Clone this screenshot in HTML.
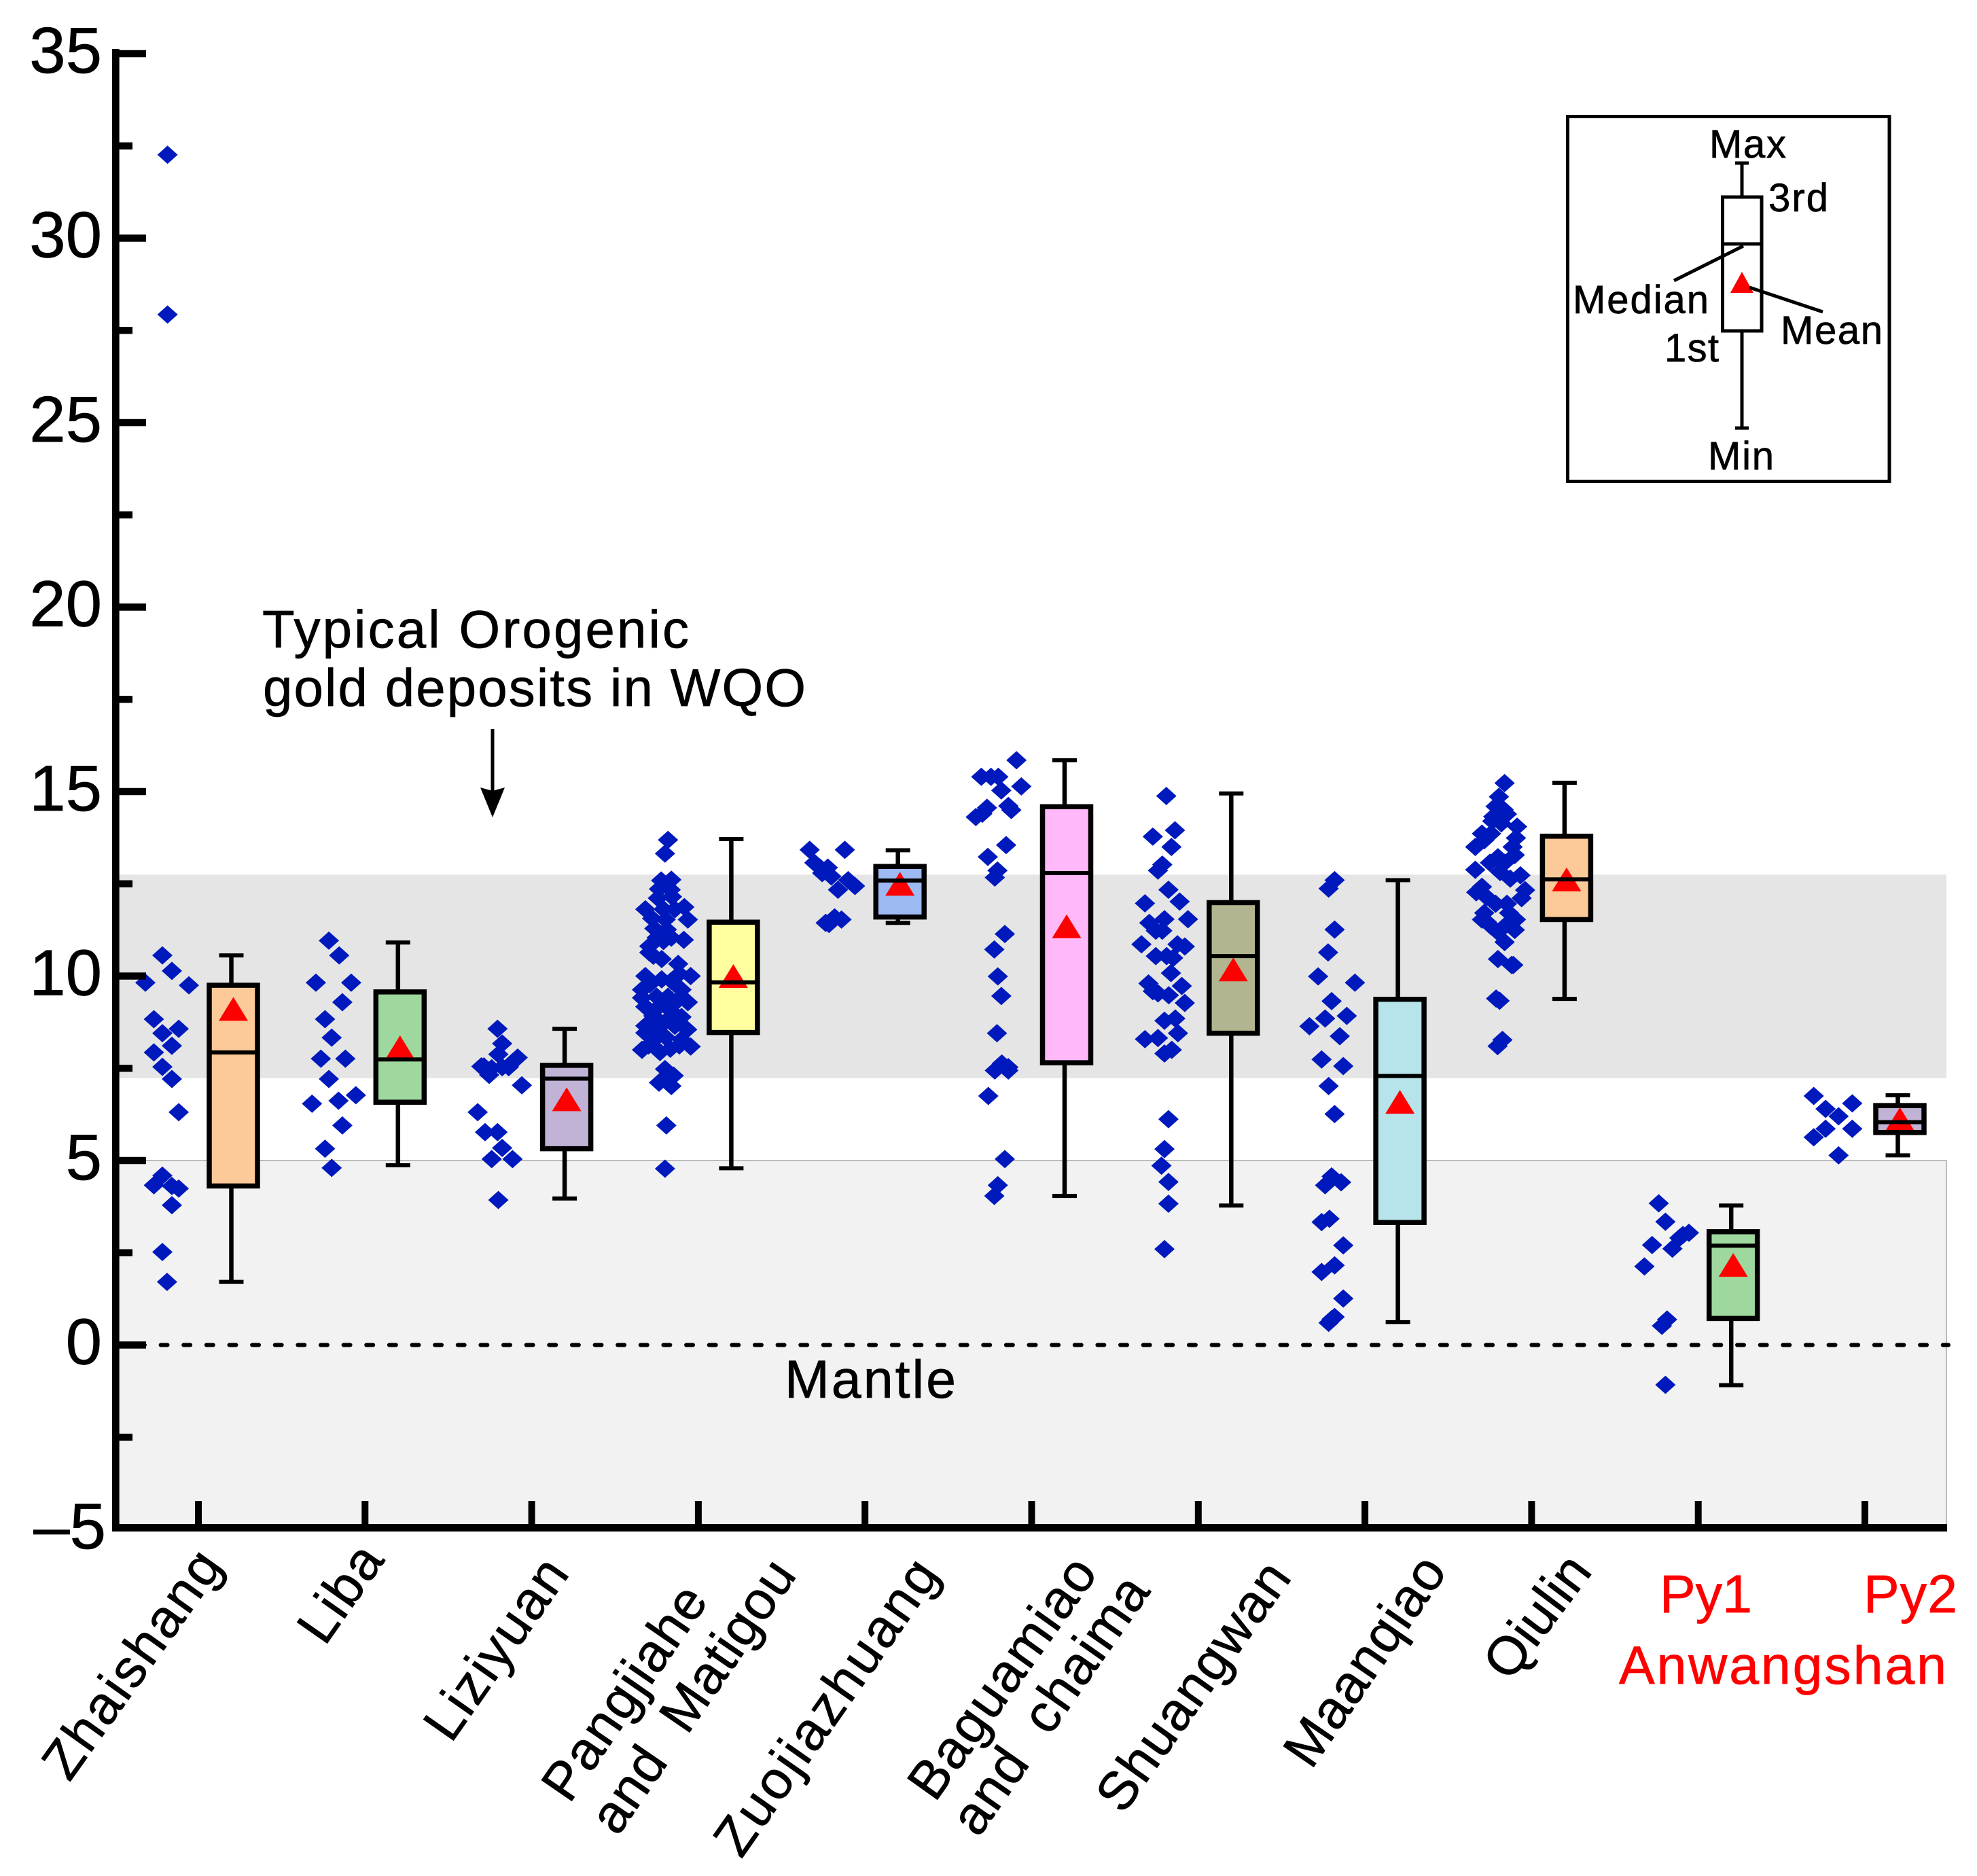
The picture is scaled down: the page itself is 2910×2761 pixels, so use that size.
<!DOCTYPE html>
<html lang="en">
<head>
<meta charset="utf-8">
<title>Box plots with data points by gold deposit</title>
<style>
html,body{margin:0;padding:0;background:#fff;}
svg{display:block;}
text{font-family:"Liberation Sans",sans-serif;fill:#000;stroke:#000;stroke-width:.7px;}
text.red{fill:#ff0000;stroke:#ff0000;}
</style>
</head>
<body>
<svg id="chart" xmlns="http://www.w3.org/2000/svg" width="2910" height="2761" viewBox="0 0 2910 2761">
  <rect x="0" y="0" width="2910" height="2761" fill="#ffffff"/>
  <g id="bands"></g>
  <g id="marks"></g>
  <g id="axes"></g>

  <g>
    <text x="386" y="953" font-size="78" textLength="628" lengthAdjust="spacing">Typical Orogenic</text>
    <text x="387" y="1039" font-size="78" textLength="799" lengthAdjust="spacing">gold deposits in WQO</text>
    <line x1="725" y1="1073" x2="725" y2="1170" stroke="#000" stroke-width="5"/>
    <polygon points="707,1159 725,1164 743,1159 725,1203" fill="#000"/>
  </g>
  <text x="1155" y="2057" font-size="79" textLength="252" lengthAdjust="spacing">Mantle</text>

  <g>
    <text transform="translate(102,2624) rotate(-54.5)" font-size="79" textLength="392" lengthAdjust="spacing">Zhaishang</text>
    <text transform="translate(478,2424) rotate(-55)" font-size="79" textLength="156" lengthAdjust="spacing">Liba</text>
    <text transform="translate(664,2567) rotate(-55)" font-size="79" textLength="306" lengthAdjust="spacing">Liziyuan</text>
    <text transform="translate(838,2656) rotate(-55.5)" font-size="79" textLength="364" lengthAdjust="spacing">Pangjiahe</text>
    <text transform="translate(909,2704) rotate(-55.5)" font-size="79" textLength="468" lengthAdjust="spacing" xml:space="preserve">and  Matigou</text>
    <text transform="translate(1091,2737) rotate(-55)" font-size="79" textLength="512" lengthAdjust="spacing">Zuojiazhuang</text>
    <text transform="translate(1376,2654) rotate(-54.5)" font-size="79" textLength="416" lengthAdjust="spacing">Baguamiao</text>
    <text transform="translate(1440,2706) rotate(-55)" font-size="79" textLength="444" lengthAdjust="spacing" xml:space="preserve">and  chaima</text>
    <text transform="translate(1653,2672) rotate(-54.5)" font-size="79" textLength="430" lengthAdjust="spacing">Shuangwan</text>
    <text transform="translate(1930,2606) rotate(-55.5)" font-size="79" textLength="356" lengthAdjust="spacing">Maanqiao</text>
    <text transform="translate(2222,2477) rotate(-53)" font-size="79" textLength="205" lengthAdjust="spacing">Qiulin</text>
    <text class="red" x="2443" y="2373" font-size="79" textLength="136" lengthAdjust="spacing">Py1</text>
    <text class="red" x="2743" y="2373" font-size="79" textLength="138" lengthAdjust="spacing">Py2</text>
    <text class="red" x="2383" y="2478" font-size="79" textLength="482" lengthAdjust="spacing">Anwangshan</text>
  </g>

  <g>
    <rect x="2307.5" y="171.5" width="473.5" height="537" fill="#fff" stroke="#000" stroke-width="5"/>
    <line x1="2564" y1="240" x2="2564" y2="290" stroke="#000" stroke-width="5"/>
    <line x1="2564" y1="487" x2="2564" y2="630" stroke="#000" stroke-width="5"/>
    <line x1="2554" y1="240" x2="2574" y2="240" stroke="#000" stroke-width="5"/>
    <line x1="2554" y1="630" x2="2574" y2="630" stroke="#000" stroke-width="5"/>
    <rect x="2535.5" y="290" width="57.5" height="197" fill="#fff" stroke="#000" stroke-width="5"/>
    <line x1="2535" y1="359" x2="2593" y2="359" stroke="#000" stroke-width="5"/>
    <polygon points="2564,400 2581,431 2547,431" fill="#ff0000"/>
    <line x1="2464" y1="413" x2="2566" y2="362" stroke="#000" stroke-width="5"/>
    <line x1="2575" y1="423" x2="2683" y2="459" stroke="#000" stroke-width="5"/>
    <text x="2516" y="232" font-size="58" textLength="113" lengthAdjust="spacing">Max</text>
    <text x="2603" y="311" font-size="58" textLength="88" lengthAdjust="spacing">3rd</text>
    <text x="2315" y="461" font-size="58" textLength="200" lengthAdjust="spacing">Median</text>
    <text x="2621" y="506" font-size="58" textLength="150" lengthAdjust="spacing">Mean</text>
    <text x="2450" y="532" font-size="58" textLength="80" lengthAdjust="spacing">1st</text>
    <text x="2514" y="691" font-size="58" textLength="97" lengthAdjust="spacing">Min</text>
  </g>
</svg>

<script>
// ---- categories and box statistics ----
const categories = ["Zhaishang","Liba","Liziyuan","Pangjiahe and Matigou","Zuojiazhuang","Baguamiao and chaima","Shuangwan","Maanqiao","Qiulin","Py1","Py2"];
const boxMax    = [10.56,10.91,8.57,13.71,13.41,15.85,14.95,12.60,15.24,3.78,6.77];
const boxQ3     = [9.75,9.57,7.58,11.46,12.97,14.59,11.99,9.37,13.79,3.07,6.49];
const boxMedian = [7.93,7.74,7.22,9.83,12.59,12.79,10.54,7.29,12.62,2.69,6.04];
const boxQ1     = [4.31,6.58,5.32,8.47,11.60,7.65,8.45,3.32,11.53,0.72,5.76];
const boxMin    = [1.71,4.87,3.97,4.79,11.44,4.04,3.78,0.62,9.38,-1.09,5.14];
const boxMean   = [9.11,8.07,6.66,10.00,12.50,11.35,10.18,6.59,12.62,2.17,6.12];
const boxFills  = ["#fcc998","#9fd89e","#c1b3d6","#ffff9f","#9dbbf2","#ffb8f8","#b2b58f","#b6e4ea","#fcc998","#9fd89e","#c1b3d6"];

// ---- y axis ----
const yTickLabels = ["35","30","25","20","15","10","5","0","\u20135"];
const yTickValues = [35,30,25,20,15,10,5,0,-5];
const yMinorValues = [32.5,27.5,22.5,17.5,12.5,7.5,2.5,-2.5];

// ---- reference bands (value ranges) ----
const orogenicBand = [7.23,12.75];
const mantleBand = [-5,5];

// ---- individual analyses: value, and horizontal jitter in category units ----
const valuesZhaishang = [32.26,27.93,10.56,10.14,9.82,9.75,8.83,8.57,8.45,8.11,7.93,7.54,7.21,6.31,4.59,4.33,4.31,4.24,3.79,2.52,1.71];
const jitterZhaishang = [-.185,-.185,-.216,-.159,-.318,-.057,-.267,-.118,-.216,-.159,-.267,-.216,-.159,-.118,-.216,-.267,-.159,-.118,-.159,-.216,-.188];

const valuesLiba = [10.96,10.56,9.82,9.82,9.29,8.83,8.33,7.76,7.76,7.21,6.77,6.54,6.62,5.95,5.32,4.80];
const jitterLiba = [-.217,-.155,-.295,-.083,-.136,-.24,-.2,-.265,-.118,-.217,-.055,-.318,-.159,-.136,-.24,-.2];

const valuesLiziyuan = [8.57,8.17,7.88,7.79,7.55,7.55,7.32,7.04,6.31,5.77,5.77,5.34,5.04,5.04,3.93,7.55,7.42,7.50,7.53,7.53,7.70];
const jitterLiziyuan = [-.205,-.177,-.2,-.084,-.287,-.138,-.255,-.059,-.324,-.28,-.205,-.177,-.24,-.115,-.2,-.302,-.27,-.24,-.177,-.138,-.106];

const valuesPangjiahe = [13.69,13.32,12.59,12.61,12.36,12.34,12.11,12.15,11.81,11.87,11.81,11.81,11.56,11.53,11.53,11.29,11.26,11.04,10.98,11.04,10.81,10.95,10.64,10.46,10.55,10.33,10.0,10.0,10.06,9.91,9.78,9.63,9.63,9.87,9.44,9.41,9.29,9.44,9.17,9.32,9.2,9.05,8.92,8.89,8.65,8.55,8.77,8.46,8.55,8.65,8.0,8.09,8.28,8.28,8.34,8.12,7.94,8.03,8.12,7.48,7.3,7.11,7.02,7.3,5.95,4.78];
const jitterPangjiahe = [-.182,-.2,-.223,-.162,-.236,-.166,-.243,-.158,-.318,-.084,-.209,-.141,-.277,-.196,-.063,-.264,-.189,-.25,-.087,-.162,-.294,-.209,-.294,-.22,-.27,-.121,-.318,-.046,-.114,-.22,-.291,-.338,-.101,-.162,-.25,-.338,-.063,-.182,-.318,-.128,-.23,-.162,-.27,-.101,-.318,-.067,-.196,-.318,-.25,-.141,-.338,-.046,-.264,-.101,-.196,-.298,-.23,-.168,-.114,-.2,-.148,-.236,-.162,-.189,-.192,-.2];

const valuesZuojiazhuang = [13.42,13.42,13.07,12.94,12.94,12.79,12.7,12.34,12.6,12.44,11.44,11.59,11.53,11.41];
const jitterZuojiazhuang = [-.332,-.121,-.304,-.27,-.223,-.257,-.202,-.162,-.101,-.06,-.236,-.182,-.141,-.216];

const valuesBaguamiao = [15.85,15.4,15.4,15.4,15.14,15.03,14.61,14.56,14.31,14.4,14.5,13.55,13.23,12.86,12.67,11.14,10.72,9.99,9.46,8.45,7.63,7.44,7.53,7.44,6.75,5.04,4.33,4.04];
const jitterBaguamiao = [-.091,-.302,-.244,-.2,-.062,-.182,-.14,-.268,-.335,-.296,-.122,-.153,-.263,-.205,-.221,-.161,-.224,-.203,-.182,-.208,-.179,-.221,-.14,-.14,-.26,-.161,-.203,-.224];

const valuesShuangwan = [14.88,13.95,13.78,13.5,13.02,12.86,12.34,11.97,12.02,11.54,11.54,11.44,11.23,11.23,10.86,10.86,10.8,10.54,10.54,10.49,10.08,9.8,9.73,9.53,9.48,9.59,9.27,8.79,8.85,8.45,8.29,8.32,8.0,7.9,6.12,5.31,4.86,4.42,3.83,2.6];
const jitterShuangwan = [-.192,-.14,-.273,-.161,-.216,-.242,-.179,-.32,-.112,-.062,-.203,-.294,-.255,-.216,-.341,-.125,-.081,-.255,-.19,-.151,-.164,-.299,-.099,-.242,-.177,-.273,-.081,-.203,-.138,-.122,-.32,-.242,-.159,-.203,-.179,-.203,-.221,-.179,-.179,-.203];

const valuesMaanqiao = [12.6,12.37,11.26,10.64,9.99,9.82,9.32,8.85,8.92,8.64,8.37,7.74,7.56,7.02,6.26,4.57,4.41,4.33,3.42,3.33,2.7,2.16,1.98,1.26,.76,.6,.7];
const jitterMaanqiao = [-.182,-.218,-.182,-.221,-.281,-.06,-.2,-.239,-.109,-.333,-.151,-.26,-.13,-.218,-.182,-.2,-.143,-.239,-.213,-.26,-.13,-.182,-.26,-.13,-.182,-.218,-.2];

const valuesQiulin = [15.23,14.86,14.6,14.51,14.32,14.39,14.2,14.14,14.05,13.86,13.86,13.5,13.68,13.74,13.5,13.28,12.88,13.22,13.07,13.07,12.73,12.82,12.33,12.42,12.27,12.64,12.11,12.14,11.96,11.96,11.71,11.71,11.53,11.25,11.35,11.53,11.35,10.92,10.46,10.3,10.3,11.19,11.47,9.39,9.33,8.27,8.1];
const jitterQiulin = [-.162,-.196,-.216,-.168,-.23,-.148,-.236,-.182,-.087,-.298,-.243,-.338,-.284,-.094,-.114,-.101,-.338,-.202,-.25,-.162,-.067,-.189,-.039,-.298,-.332,-.128,-.06,-.27,-.148,-.216,-.284,-.135,-.298,-.101,-.243,-.094,-.162,-.162,-.202,-.11,-.12,-.202,-.27,-.213,-.192,-.175,-.204];

const valuesPy1 = [3.84,3.34,3.04,2.98,2.9,2.71,2.61,2.13,.69,.52,-1.08];
const jitterPy1 = [-.237,-.197,-.056,-.092,-.113,-.277,-.155,-.323,-.187,-.218,-.197];

const valuesPy2 = [6.75,6.55,6.4,6.2,5.86,5.86,5.63,5.14];
const jitterPy2 = [-.307,-.076,-.236,-.158,-.236,-.076,-.307,-.158];

const pointValues = [valuesZhaishang,valuesLiba,valuesLiziyuan,valuesPangjiahe,valuesZuojiazhuang,valuesBaguamiao,valuesShuangwan,valuesMaanqiao,valuesQiulin,valuesPy1,valuesPy2];
const pointJitter = [jitterZhaishang,jitterLiba,jitterLiziyuan,jitterPangjiahe,jitterZuojiazhuang,jitterBaguamiao,jitterShuangwan,jitterMaanqiao,jitterQiulin,jitterPy1,jitterPy2];

// ---- axis functions ----
function yAxis(v){ return 1979.5 - v * 54.3; }
function xAxis(c){ return 292 + c * 245.3; }

const NS = "http://www.w3.org/2000/svg";
function make(tag, attrs, parent){
  const el = document.createElementNS(NS, tag);
  for (const k in attrs) el.setAttribute(k, attrs[k]);
  parent.appendChild(el);
  return el;
}

const bandsG = document.getElementById("bands");
const marksG = document.getElementById("marks");
const axesG = document.getElementById("axes");
const plotLeft = 170, plotRight = 2865;

// bands
const band1 = make("rect", {x:plotLeft, y:yAxis(orogenicBand[1]), width:plotRight-plotLeft, height:yAxis(orogenicBand[0])-yAxis(orogenicBand[1]), fill:"#e5e5e5"}, bandsG);


const band2 = make("rect", {x:plotLeft, y:yAxis(mantleBand[1]), width:plotRight-plotLeft, height:yAxis(mantleBand[0])-yAxis(mantleBand[1]), fill:"#f2f2f2", stroke:"#a8a8a8", "stroke-width":1.5}, bandsG);



// zero line
const zero = make("line", {x1:169.3, x2:2868, y1:yAxis(0), y2:yAxis(0), stroke:"#000", "stroke-width":6, "stroke-dasharray":"10 23.63", "stroke-linecap":"round"}, marksG);



// points and boxes
categories.forEach(function(cat, i){
  const px = xAxis(i);
  const vals = pointValues[i], jit = pointJitter[i];
  vals.forEach(function(v, j){
    const cx = xAxis(i + jit[j]), cy = yAxis(v);
    const d = make("polygon", {points:[cx,cy-13.5, cx+15,cy, cx,cy+13.5, cx-15,cy].join(","), fill:"#0019bd"}, marksG);
    
    
  });

  const bc = px + 51.5, wx = bc - 3, bw = 71;
  const wTop = make("line", {x1:wx, x2:wx, y1:yAxis(boxMax[i]), y2:yAxis(boxQ3[i]), stroke:"#000", "stroke-width":6.5}, marksG);
  
  
  const wBot = make("line", {x1:wx, x2:wx, y1:yAxis(boxQ1[i]), y2:yAxis(boxMin[i]), stroke:"#000", "stroke-width":6.5}, marksG);
  
  
  const cTop = make("line", {x1:wx-18, x2:wx+18, y1:yAxis(boxMax[i]), y2:yAxis(boxMax[i]), stroke:"#000", "stroke-width":6}, marksG);
  
  
  const cBot = make("line", {x1:wx-18, x2:wx+18, y1:yAxis(boxMin[i]), y2:yAxis(boxMin[i]), stroke:"#000", "stroke-width":6}, marksG);
  
  

  const fill = make("rect", {x:bc-bw/2, y:yAxis(boxQ3[i]), width:bw, height:yAxis(boxQ1[i])-yAxis(boxQ3[i]), fill:boxFills[i]}, marksG);
  
  

  const my = yAxis(boxMean[i]);
  const tri = make("polygon", {points:[bc,my-17.5, bc+21.5,my+17.5, bc-21.5,my+17.5].join(","), fill:"#ff0000"}, marksG);
  
  

  const med = make("line", {x1:bc-bw/2, x2:bc+bw/2, y1:yAxis(boxMedian[i]), y2:yAxis(boxMedian[i]), stroke:"#000", "stroke-width":6}, marksG);
  
  

  const outline = make("rect", {x:bc-bw/2, y:yAxis(boxQ3[i]), width:bw, height:yAxis(boxQ1[i])-yAxis(boxQ3[i]), fill:"none", stroke:"#000", "stroke-width":7.5}, marksG);
  
  

  const tick = make("line", {x1:px, x2:px, y1:2209, y2:2248, stroke:"#000", "stroke-width":10}, axesG);
  
  
});

// axes
const yLine = make("line", {x1:170.3, x2:170.3, y1:72, y2:2254, stroke:"#000", "stroke-width":10.7}, axesG);


const xLine = make("line", {x1:165, x2:2866, y1:2248.5, y2:2248.5, stroke:"#000", "stroke-width":11}, axesG);



yTickValues.forEach(function(v, i){
  const yy = yAxis(v);
  if (v > -5) {
    const t = make("line", {x1:170, x2:215, y1:yy, y2:yy, stroke:"#000", "stroke-width":10.5}, axesG);
    
    
  }
  const lab = make("text", {x: v < 0 ? 156 : 150, y: yy + 28, "font-size":96, "text-anchor":"end"}, axesG);
  
  
  lab.textContent = yTickLabels[i];
});
yMinorValues.forEach(function(v){
  const yy = yAxis(v);
  const t = make("line", {x1:170, x2:195, y1:yy, y2:yy, stroke:"#000", "stroke-width":10.5}, axesG);
  
  
});
</script>
</body>
</html>
